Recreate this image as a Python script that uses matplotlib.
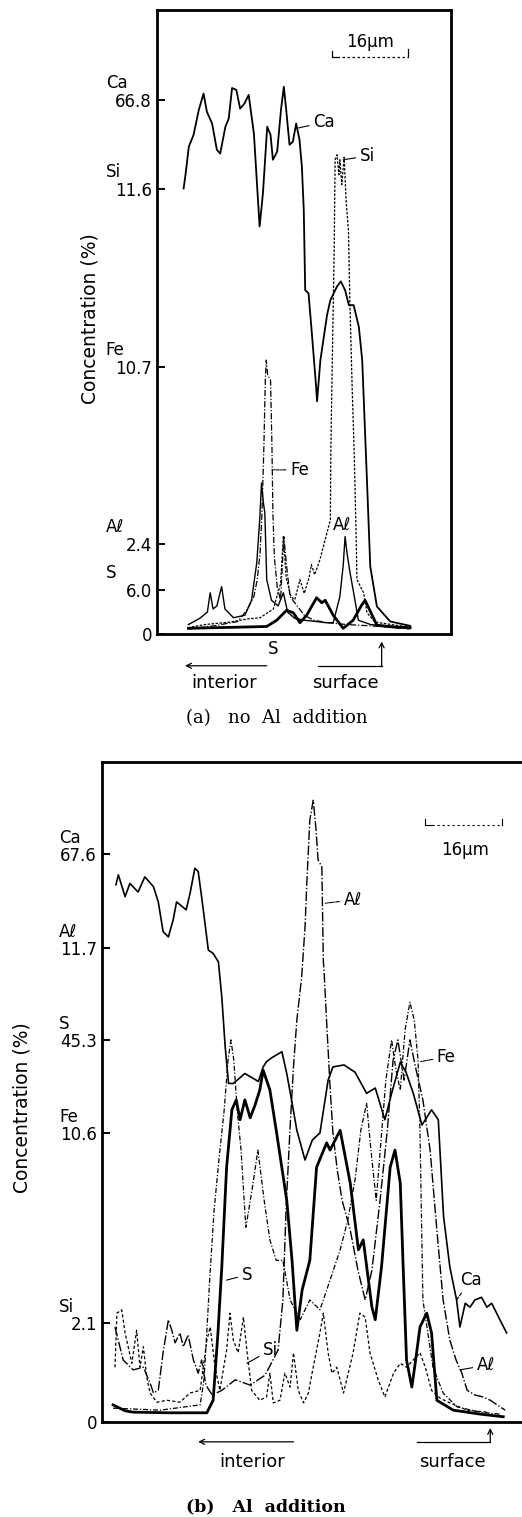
import matplotlib.pyplot as plt

plt.rcParams['font.family'] = ['DejaVu Sans']

# x: distance along the line scan (um), y: recorder deflection (% of full scale)

# ---- (a) no Al addition ----
A_CA_X = [5.6, 6.0, 6.7, 7.7, 8.8, 9.8, 10.5, 11.6, 12.6, 13.3, 14.4, 15.1, 15.8, 16.7, 17.5,
          18.4, 19.3, 20.4, 21.6, 22.3, 23.2, 23.9, 24.4, 25.3, 26.1, 26.7, 27.2, 27.9, 28.6,
          29.3, 30.0, 30.5, 30.9, 31.2, 31.9, 32.6, 33.5, 33.7, 34.4, 35.8, 36.5, 37.9, 38.7,
          39.6, 40.4, 41.4, 42.5, 43.2, 44.2, 44.9, 46.3, 49.1, 53.3]
A_CA_Y = [71.4, 73.6, 78.1, 80.0, 84.0, 86.6, 83.7, 81.8, 77.6, 77.0, 81.3, 82.6, 87.5, 87.2, 84.2,
          85.0, 86.4, 80.2, 65.3, 70.6, 81.3, 80.0, 76.0, 77.3, 84.0, 87.7, 84.0, 78.4, 78.9,
          81.8, 79.2, 74.9, 67.9, 55.1, 54.6, 48.2, 39.6, 37.3, 43.9, 51.1, 53.5, 55.7, 56.5,
          55.1, 52.7, 52.7, 49.2, 43.9, 24.7, 10.8, 4.4, 2.0, 1.3]

A_SI_X = [6.5, 10.0, 15.4, 19.0, 21.7, 24.5, 26.0, 26.6, 27.2, 28.2, 29.0, 30.1, 31.0, 32.0,
          32.5, 33.2, 34.3, 35.4, 36.5, 36.6, 36.8, 37.3, 37.5, 37.9, 38.3, 38.5, 38.9, 39.4,
          39.8, 40.3, 40.6, 41.1, 41.5, 41.9, 42.1, 43.5, 44.2, 45.9, 51.2, 53.3]
A_SI_Y = [1.0, 1.5, 1.9, 2.4, 2.6, 4.0, 8.0, 15.6, 9.0, 6.0, 5.5, 8.7, 6.5, 9.0,
          11.1, 9.5, 11.9, 15.1, 18.3, 29.5, 39.1, 61.5, 76.0, 76.8, 73.6, 76.0, 72.0, 76.4,
          69.6, 64.7, 53.5, 39.1, 29.5, 16.7, 8.7, 6.6, 3.4, 1.9, 1.3, 1.1]

A_FE_X = [6.5, 12.0, 17.0, 18.9, 20.4, 21.1, 21.7, 22.1, 22.5, 22.8, 23.0, 23.3, 23.9, 24.2,
          24.4, 24.7, 25.3, 26.0, 26.7, 27.3, 28.0, 29.5, 31.0, 33.0, 36.0, 40.0, 45.0, 50.0, 53.3]
A_FE_Y = [0.8, 1.3, 2.0, 3.8, 6.0, 8.7, 13.0, 19.4, 30.0, 40.7, 43.9, 41.5, 40.7, 30.0,
          19.4, 12.4, 7.6, 5.4, 15.6, 10.8, 6.0, 4.5, 3.0, 2.2, 1.8, 1.5, 1.3, 1.0, 0.8]

A_AL_X = [6.6, 9.0, 10.6, 11.2, 11.8, 12.6, 13.6, 14.3, 16.1, 18.5, 19.9, 21.0, 21.6, 22.0,
          22.4, 22.7, 23.1, 24.1, 25.5, 26.6, 27.5, 29.0, 31.0, 33.5, 35.5, 37.1, 38.5, 39.2,
          39.6, 40.0, 40.6, 41.4, 42.4, 45.0, 50.0, 53.3]
A_AL_Y = [1.5, 2.5, 3.5, 6.6, 4.0, 4.5, 7.6, 4.0, 2.6, 3.0, 5.4, 11.4, 18.0, 24.2,
          21.0, 19.4, 8.7, 5.4, 4.5, 6.6, 3.5, 2.5, 2.2, 2.0, 1.8, 1.8, 6.0, 11.0,
          15.6, 13.0, 10.0, 6.6, 2.2, 1.5, 1.2, 1.0]

A_S_X = [6.6, 12.0, 18.0, 23.1, 25.2, 27.3, 28.7, 30.1, 31.5, 33.6, 34.7, 35.4, 37.1, 39.2,
         41.3, 43.0, 43.8, 44.8, 46.3, 50.0, 53.3]
A_S_Y = [0.9, 1.0, 1.1, 1.2, 2.2, 3.8, 3.4, 1.8, 3.0, 5.8, 5.0, 5.4, 3.0, 0.9,
         2.2, 4.5, 5.4, 3.8, 1.4, 1.1, 1.0]

A_TICKS = [0, 7.05, 14.4, 42.8, 71.3, 85.6]
A_TICK_VALUES = ["0", "6.0", "2.4", "10.7", "11.6", "66.8"]
A_TICK_ELEMENTS = ["", "S", "Aℓ", "Fe", "Si", "Ca"]

# ---- (b) Al addition ----
B_CA_X = [2.9, 3.4, 4.8, 5.8, 7.5, 8.9, 10.7, 11.7, 12.7, 13.8, 14.8, 15.5, 17.5, 18.3, 19.3,
          20.0, 20.7, 21.4, 22.1, 23.1, 24.2, 24.9, 25.6, 26.3, 27.3, 29.7, 32.5, 33.5, 34.2,
          35.3, 37.4, 38.4, 39.4, 40.5, 42.2, 43.7, 45.3, 47.0, 48.0, 50.3, 52.6, 55.0, 56.8,
          58.8, 60.2, 62.0, 63.2, 64.7, 66.5, 68.5, 69.9, 71.0, 72.3, 73.7, 74.4, 75.5, 76.5,
          77.5, 78.9, 80.0, 81.0, 82.7, 84.1]
B_CA_Y = [81.4, 82.9, 79.6, 81.6, 80.3, 82.6, 81.1, 78.8, 74.3, 73.5, 76.1, 78.8, 77.6, 80.1, 83.9,
          83.4, 79.6, 75.6, 71.5, 71.0, 69.7, 64.4, 56.9, 51.3, 51.3, 52.8, 51.6, 53.8, 54.6,
          55.2, 56.1, 52.8, 48.8, 44.2, 39.7, 42.7, 43.8, 51.8, 53.8, 54.1, 53.0, 49.8, 50.6,
          45.8, 49.8, 54.5, 53.0, 49.8, 45.0, 47.3, 45.8, 31.1, 23.5, 18.5, 14.4, 18.0, 17.4,
          18.5, 18.9, 17.4, 18.0, 15.5, 13.5]

B_S_X = [2.3, 4.8, 6.4, 14.1, 21.8, 23.1, 24.1, 24.9, 25.9, 27.0, 27.9, 28.7, 29.7, 30.8, 31.8,
         32.8, 33.5, 34.9, 36.3, 38.4, 39.5, 40.5, 41.6, 43.2, 44.6, 46.7, 47.4, 49.5, 51.6,
         53.3, 54.3, 56.1, 56.8, 58.1, 59.9, 60.9, 62.0, 62.6, 63.3, 64.4, 65.1, 66.1, 67.5,
         68.5, 69.6, 73.0, 78.6, 83.4]
B_S_Y = [2.6, 1.7, 1.5, 1.4, 1.4, 3.3, 13.5, 23.5, 38.6, 47.3, 48.8, 45.8, 48.8, 46.1, 48.0,
         50.3, 53.3, 50.3, 43.8, 33.6, 24.5, 13.9, 20.0, 24.5, 38.6, 42.3, 41.2, 44.2, 36.2,
         26.1, 27.6, 17.4, 15.5, 23.5, 38.6, 41.2, 36.2, 23.5, 9.4, 5.3, 8.9, 14.4, 16.5,
         13.5, 3.3, 1.8, 1.2, 0.8]

B_AL_X = [2.7, 4.4, 6.5, 8.6, 10.0, 10.7, 11.7, 12.7, 13.8, 14.5, 15.2, 16.2, 16.9, 17.9, 19.0,
          20.0, 20.7, 21.6, 22.9, 24.9, 27.7, 30.8, 33.9, 36.6, 37.6, 38.3, 39.1, 39.8, 40.5,
          41.5, 42.2, 42.6, 43.2, 43.9, 44.5, 44.9, 45.7, 46.0, 46.2, 46.7, 47.0, 47.4, 48.0,
          48.9, 49.9, 51.6, 53.2, 54.7, 56.1, 57.8, 59.3, 60.5, 61.5, 62.8, 64.0, 65.3, 66.7,
          68.2, 69.6, 70.9, 72.3, 73.6, 74.8, 75.9, 77.5, 79.2, 80.7, 83.8]
B_AL_Y = [14.4, 9.4, 7.9, 8.3, 5.9, 4.4, 4.8, 10.5, 15.5, 13.9, 12.0, 13.5, 11.4, 13.2, 9.4,
          7.4, 9.4, 5.6, 4.1, 4.8, 6.4, 5.6, 7.1, 10.9, 18.5, 33.0, 44.7, 53.8, 60.9,
          67.4, 75.0, 82.1, 91.2, 94.2, 89.7, 85.2, 84.1, 70.0, 67.7, 60.5, 56.4, 50.8, 43.8,
          38.2, 33.6, 29.1, 23.0, 18.5, 23.0, 33.6, 44.2, 54.8, 57.9, 51.8, 57.9, 53.3, 48.8,
          41.2, 29.1, 18.5, 12.4, 9.4, 7.4, 4.8, 4.1, 3.8, 3.3, 1.8]

B_FE_X = [2.3, 12.1, 20.4, 21.2, 21.8, 22.5, 23.3, 24.3, 25.4, 26.2, 26.8, 27.4, 28.1, 28.9,
          29.9, 31.2, 32.4, 33.7, 34.9, 36.2, 37.6, 39.1, 41.2, 43.2, 45.3, 47.4, 49.5, 51.1,
          52.6, 53.8, 55.0, 55.9, 57.0, 58.0, 59.0, 60.2, 61.1, 62.0, 63.0, 64.0, 64.9, 65.7,
          66.1, 66.7, 68.8, 70.9, 73.8, 78.6, 82.7]
B_FE_Y = [2.1, 1.8, 2.6, 6.4, 13.9, 23.0, 32.1, 39.7, 47.3, 54.8, 57.9, 54.8, 47.3, 41.2,
          29.5, 35.2, 41.2, 33.6, 27.6, 24.5, 24.5, 18.5, 15.5, 18.5, 17.0, 21.5, 26.1, 30.6,
          36.7, 44.2, 48.3, 41.2, 33.6, 42.7, 51.8, 57.9, 53.3, 50.3, 59.4, 63.6, 60.9, 54.8,
          43.8, 18.5, 8.3, 4.4, 2.3, 1.5, 1.2]

B_SI_X = [2.7, 3.1, 4.1, 4.8, 6.2, 7.2, 7.9, 8.6, 9.3, 10.0, 11.4, 13.5, 16.2, 18.3, 20.4,
          21.8, 22.5, 23.5, 24.5, 25.9, 26.6, 27.3, 28.3, 29.4, 30.1, 31.1, 32.8, 34.2, 34.9,
          35.6, 37.0, 38.0, 39.1, 39.8, 40.8, 41.9, 42.9, 43.9, 45.3, 46.0, 47.0, 47.8, 48.8,
          50.2, 52.2, 53.6, 54.7, 55.7, 57.4, 58.8, 60.6, 62.0, 63.3, 64.7, 66.1, 67.2, 68.5,
          70.3, 72.3, 75.8, 80.0]
B_SI_Y = [8.3, 16.5, 17.0, 13.5, 8.9, 13.9, 8.3, 11.4, 6.8, 4.4, 3.0, 3.3, 3.0, 4.4, 4.8,
          12.4, 14.4, 8.3, 4.8, 10.9, 16.5, 12.4, 10.5, 15.9, 10.9, 4.8, 3.3, 3.8, 7.4,
          2.9, 3.3, 7.4, 5.3, 10.5, 4.8, 2.9, 4.4, 8.3, 13.5, 16.5, 10.5, 7.4, 8.3,
          4.4, 10.5, 16.5, 15.9, 10.5, 6.4, 3.8, 7.4, 8.9, 8.3, 9.4, 10.5, 8.3, 4.8,
          3.6, 2.9, 1.8, 1.5]

B_TICKS = [0, 15.0, 43.8, 57.9, 71.8, 86.1]
B_TICK_VALUES = ["0", "2.1", "10.6", "45.3", "11.7", "67.6"]
B_TICK_ELEMENTS = ["", "Si", "Fe", "S", "Aℓ", "Ca"]

SCALE_BAR_UM = 16

FS_TICK = 12
FS_LABEL = 12


def style_axes(ax, xmax, ticks, values, elements, el_dx, el_dy, right_spine=True):
    ax.set_xlim(0, xmax)
    ax.set_ylim(0, 100)
    ax.set_xticks([])
    ax.set_yticks(ticks, labels=values)
    ax.tick_params(axis="y", direction="in", length=6, width=1.4, pad=3.6,
                   labelsize=FS_TICK)
    for name, sp in ax.spines.items():
        sp.set_linewidth(2.0)
    if not right_spine:
        ax.spines["right"].set_visible(False)
    for t, el in zip(ticks, elements):
        if el:
            ax.annotate(el, xy=(0, t), xycoords=("axes fraction", "data"),
                        xytext=(el_dx, el_dy), textcoords="offset points",
                        ha="left", va="center", fontsize=FS_TICK)


def label(ax, text, xy, xytext, ls="-"):
    ax.annotate(text, xy=xy, xytext=xytext, fontsize=FS_LABEL, ha="left", va="center",
                arrowprops=dict(arrowstyle="-", lw=0.8, color="black", linestyle=ls,
                                shrinkA=1, shrinkB=0))


def direction_arrows(ax, y_line, y_text, y_tip, int_x, int_text_x, surf_x, surf_text_x):
    ax.annotate("", xy=(int_x[0], y_line), xytext=(int_x[1], y_line),
                arrowprops=dict(arrowstyle="->", lw=0.9, color="black",
                                shrinkA=0, shrinkB=0, mutation_scale=9),
                annotation_clip=False)
    ax.text(int_text_x, y_text, "interior", ha="center", va="center", fontsize=13,
            clip_on=False)
    ax.plot([surf_x[0], surf_x[1]], [y_line, y_line], color="black", lw=0.9, clip_on=False)
    ax.annotate("", xy=(surf_x[1], y_tip), xytext=(surf_x[1], y_line),
                arrowprops=dict(arrowstyle="->", lw=0.9, color="black",
                                shrinkA=0, shrinkB=0, mutation_scale=9),
                annotation_clip=False)
    ax.text(surf_text_x, y_text, "surface", ha="center", va="center", fontsize=13,
            clip_on=False)


fig = plt.figure(figsize=(5.22, 15.17), dpi=100)

# ================= (a) =================
ax_a = fig.add_axes([0.3008, 0.5821, 0.5632, 0.4113])
ax_a.plot(A_S_X, A_S_Y, color="black", lw=2.0)
ax_a.plot(A_AL_X, A_AL_Y, color="black", lw=1.0)
ax_a.plot(A_FE_X, A_FE_Y, color="black", lw=0.9, linestyle=(0, (5, 1.5, 1, 1.5)))
ax_a.plot(A_SI_X, A_SI_Y, color="black", lw=0.9, linestyle=(0, (2, 1.2)))
ax_a.plot(A_CA_X, A_CA_Y, color="black", lw=1.3)
style_axes(ax_a, 61.9, A_TICKS, A_TICK_VALUES, A_TICK_ELEMENTS, -37, 12)

label(ax_a, "Ca", (29.8, 81.1), (32.9, 82.0))
label(ax_a, "Si", (39.2, 76.0), (42.7, 76.6))
label(ax_a, "Fe", (24.2, 26.3), (28.0, 26.3), ls=(0, (3, 1, 1, 1)))
ax_a.text(37.1, 17.5, "Aℓ", fontsize=FS_LABEL, ha="left", va="center")
ax_a.text(24.4, -1.0, "S", fontsize=FS_LABEL, ha="center", va="top", clip_on=False)

# scale bar
sb_x0, sb_y = 36.8, 92.5
ax_a.plot([sb_x0, sb_x0, sb_x0 + 1.2], [sb_y + 1.0, sb_y, sb_y], color="black", lw=0.9)
ax_a.plot([sb_x0 + 1.2, sb_x0 + SCALE_BAR_UM], [sb_y, sb_y], color="black", lw=0.9,
          linestyle=(0, (2, 2)))
ax_a.plot([sb_x0 + SCALE_BAR_UM, sb_x0 + SCALE_BAR_UM], [sb_y, sb_y + 1.2], color="black",
          lw=0.9)
ax_a.text(sb_x0 + SCALE_BAR_UM / 2, sb_y + 2.3, "16µm", ha="center", va="center",
          fontsize=12)

direction_arrows(ax_a, -5.1, -7.9, -1.2, (5.9, 23.1), 14.1, (34.0, 47.3), 39.7)

fig.text(0.172, 0.790, "Concentration (%)", rotation=90, ha="center", va="center",
         fontsize=13.5)
fig.text(0.530, 0.5267, "(a)   no  Al  addition", ha="center", va="center",
         fontsize=13, family="DejaVu Serif")

# ================= (b) =================
ax_b = fig.add_axes([0.1954, 0.0626, 0.8046, 0.4351])
ax_b.plot(B_SI_X, B_SI_Y, color="black", lw=0.9, linestyle=(0, (2.5, 1.8)))
ax_b.plot(B_FE_X, B_FE_Y, color="black", lw=0.9, linestyle=(0, (4, 1.5, 1, 1.5)))
ax_b.plot(B_AL_X, B_AL_Y, color="black", lw=1.0, linestyle=(0, (7, 1.5, 1, 1.5)))
ax_b.plot(B_S_X, B_S_Y, color="black", lw=2.0)
ax_b.plot(B_CA_X, B_CA_Y, color="black", lw=1.2)
style_axes(ax_b, 87.3, B_TICKS, B_TICK_VALUES, B_TICK_ELEMENTS, -31, 11.5,
           right_spine=False)

label(ax_b, "Aℓ", (46.4, 78.6), (50.2, 79.1), ls=(0, (3, 1, 1, 1)))
label(ax_b, "Fe", (66.1, 54.6), (69.6, 55.3), ls=(0, (3, 1, 1, 1)))
label(ax_b, "S", (25.9, 21.5), (29.0, 22.3))
label(ax_b, "Si", (30.1, 8.9), (33.5, 10.9))
label(ax_b, "Ca", (73.7, 18.5), (74.4, 21.5), ls=(0, (3, 1.5)))
label(ax_b, "Aℓ", (74.4, 7.9), (77.9, 8.6))

sb_x0, sb_y = 67.1, 90.5
ax_b.plot([sb_x0, sb_x0, sb_x0 + 1.5], [sb_y + 0.8, sb_y, sb_y], color="black", lw=0.8)
ax_b.plot([sb_x0 + 1.5, sb_x0 + SCALE_BAR_UM], [sb_y, sb_y], color="black", lw=0.8,
          linestyle=(0, (2, 2.5)))
ax_b.plot([sb_x0 + SCALE_BAR_UM, sb_x0 + SCALE_BAR_UM], [sb_y, sb_y + 0.8], color="black",
          lw=0.8)
ax_b.text(sb_x0 + SCALE_BAR_UM / 2 + 0.3, sb_y - 3.8, "16µm", ha="center", va="center",
          fontsize=12)

direction_arrows(ax_b, -3.0, -6.0, -0.9, (20.0, 39.8), 31.2, (65.4, 80.7), 72.8)

fig.text(0.042, 0.270, "Concentration (%)", rotation=90, ha="center", va="center",
         fontsize=13.5)
fig.text(0.509, 0.0066, "(b)   Al  addition", ha="center", va="center",
         fontsize=12.5, family="DejaVu Serif", fontweight="bold")

fig.savefig("out.png", dpi=100)
